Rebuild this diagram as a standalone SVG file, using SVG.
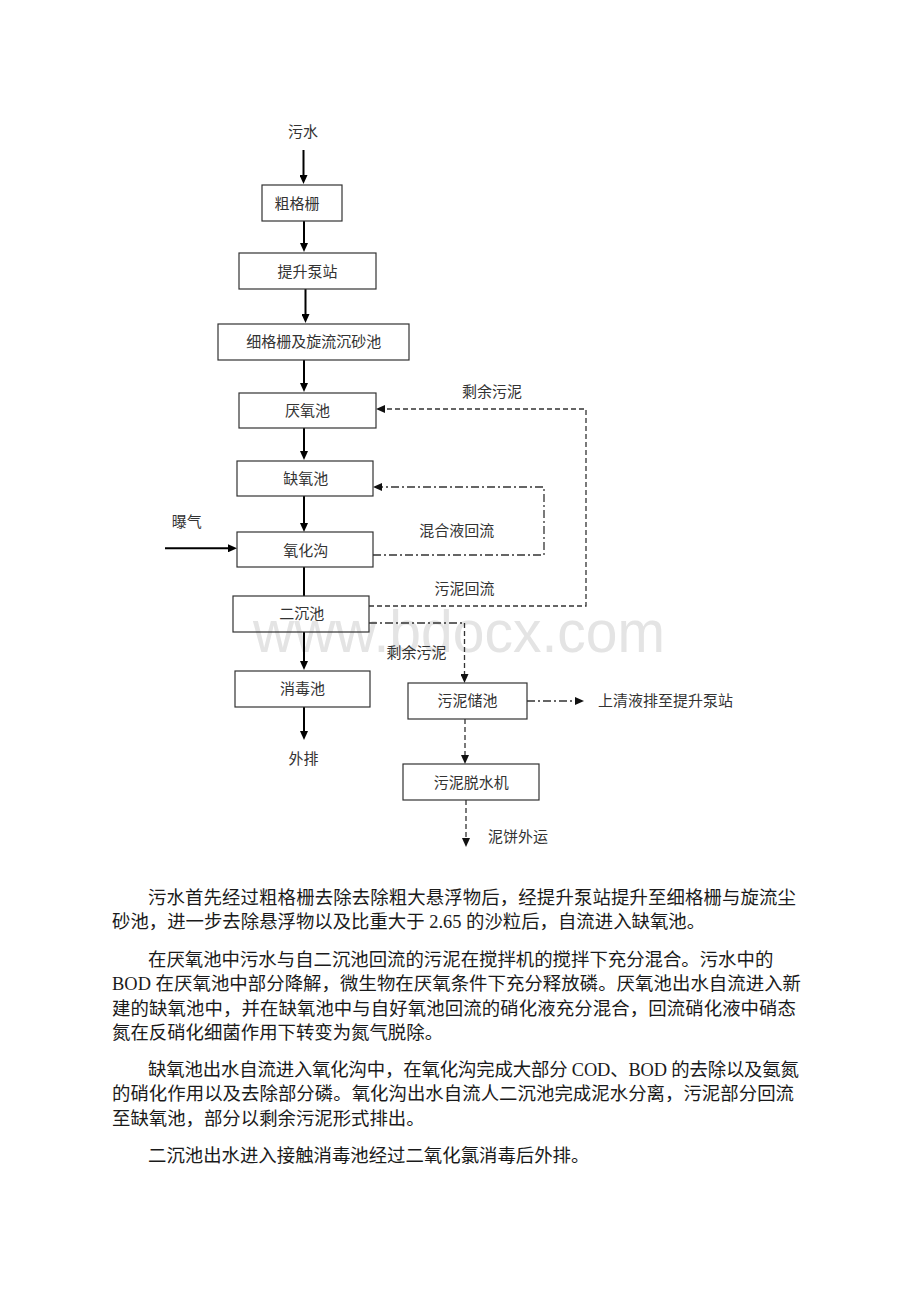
<svg xmlns="http://www.w3.org/2000/svg" width="920" height="1302" viewBox="0 0 920 1302">
<style>
.box{fill:none;stroke:#333;stroke-width:1.2}
.lbl{font-family:"Liberation Sans","Noto Sans CJK SC",sans-serif;font-size:15px;fill:#333;text-anchor:middle}
.lbl-l{font-family:"Liberation Sans","Noto Sans CJK SC",sans-serif;font-size:15px;fill:#333}
.flow{fill:none;stroke:#000;stroke-width:2}
.dash{fill:none;stroke:#333;stroke-width:1.3;stroke-dasharray:5 3}
.dashdot{fill:none;stroke:#333;stroke-width:1.3;stroke-dasharray:8 3 2 3}
.para{font-family:"Liberation Serif","Noto Sans CJK SC",serif;font-size:18.4px;fill:#1a1a1a}
.wm{font-family:"Liberation Sans",Arial,sans-serif;font-size:60px;fill:#e4e4e4}
</style>
<defs>
<marker id="ah" viewBox="0 0 9 8" refX="3" refY="4" markerWidth="9" markerHeight="8" markerUnits="userSpaceOnUse" orient="auto">
<path d="M0,0 L9,4 L0,8 z" fill="#000"/>
</marker>
<marker id="ah2" viewBox="0 0 9 8" refX="3" refY="4" markerWidth="9" markerHeight="8" markerUnits="userSpaceOnUse" orient="auto">
<path d="M0,0 L9,4 L0,8 z" fill="#111"/>
</marker>
</defs>
<rect width="920" height="1302" fill="#fff"/>
<text class="wm" x="253" y="652" textLength="412" lengthAdjust="spacingAndGlyphs">www.bdocx.com</text>

<g id="connectors">
<path class="flow" d="M303.5,150 V178" marker-end="url(#ah)"/>
<path class="flow" d="M304,221 V246" marker-end="url(#ah)"/>
<path class="flow" d="M305.5,289 V317" marker-end="url(#ah)"/>
<path class="flow" d="M304,360 V386" marker-end="url(#ah)"/>
<path class="flow" d="M304,428 V454" marker-end="url(#ah)"/>
<path class="flow" d="M304,496 V526" marker-end="url(#ah)"/>
<path class="flow" d="M304,567 V596"/>
<path class="flow" d="M304,632 V664" marker-end="url(#ah)"/>
<path class="flow" d="M304,707 V734" marker-end="url(#ah)"/>
<path class="flow" d="M165,548.3 H231" marker-end="url(#ah)"/>
<path class="dash" d="M369,606 H586 V409 H382" marker-end="url(#ah2)"/>
<path class="dashdot" d="M373,555 H544 V487 H379" marker-end="url(#ah2)"/>
<path class="dashdot" d="M369,623 H462"/>
<path class="dash" d="M464.5,623 V677" marker-end="url(#ah2)"/>
<path class="dashdot" d="M527,701 H578" marker-end="url(#ah2)"/>
<path class="dash" d="M465,719 V758" marker-end="url(#ah2)"/>
<path class="dash" d="M466,800 V841" marker-end="url(#ah2)"/>
<text class="lbl" x="492" y="397.2">剩余污泥</text>
<text class="lbl" x="456.7" y="535.5">混合液回流</text>
<text class="lbl" x="464.5" y="593.8">污泥回流</text>
<text class="lbl" x="416.5" y="658.2">剩余污泥</text>
<text class="lbl" x="186.7" y="527.2">曝气</text>
</g>

<g id="n-wushui"><text class="lbl" x="303" y="137.2">污水</text></g>
<g id="n-cugeshan"><rect class="box" x="262" y="185" width="80" height="36"/><text class="lbl" x="297" y="208.8">粗格栅</text></g>
<g id="n-tisheng"><rect class="box" x="239" y="253" width="137" height="36"/><text class="lbl" x="307.5" y="277.2">提升泵站</text></g>
<g id="n-xigeshan"><rect class="box" x="218" y="324" width="191" height="36"/><text class="lbl" x="313.8" y="347.2">细格栅及旋流沉砂池</text></g>
<g id="n-yanyang"><rect class="box" x="239" y="393" width="137" height="35"/><text class="lbl" x="307.5" y="416.2">厌氧池</text></g>
<g id="n-queyang"><rect class="box" x="237" y="461" width="136" height="35"/><text class="lbl" x="305.8" y="483.8">缺氧池</text></g>
<g id="n-yanghuagou"><rect class="box" x="237" y="532" width="136" height="35"/><text class="lbl" x="305.8" y="555.5">氧化沟</text></g>
<g id="n-erchen"><rect class="box" x="233" y="596" width="136" height="36"/><text class="lbl" x="301.7" y="618.8">二沉池</text></g>
<g id="n-xiaodu"><rect class="box" x="235" y="671" width="135" height="36"/><text class="lbl" x="302.5" y="693.8">消毒池</text></g>
<g id="n-waipai"><text class="lbl" x="303.5" y="763.8">外排</text></g>
<g id="n-wunichu"><rect class="box" x="408" y="683" width="119" height="36"/><text class="lbl" x="467.5" y="706.2">污泥储池</text></g>
<g id="n-shangqing"><text class="lbl-l" x="598" y="705.5">上清液排至提升泵站</text></g>
<g id="n-tuoshui"><rect class="box" x="403" y="764" width="136" height="36"/><text class="lbl" x="471.3" y="788.2">污泥脱水机</text></g>
<g id="n-nibing"><text class="lbl-l" x="488" y="841.5">泥饼外运</text></g>

<g id="paragraphs">
<text class="para" x="148" y="903.5" textLength="648">污水首先经过粗格栅去除去除粗大悬浮物后，经提升泵站提升至细格栅与旋流尘</text>
<text class="para" x="112" y="927.5">砂池，进一步去除悬浮物以及比重大于 2.65 的沙粒后，自流进入缺氧池。</text>
<text class="para" x="148" y="966">在厌氧池中污水与自二沉池回流的污泥在搅拌机的搅拌下充分混合。污水中的</text>
<text class="para" x="112" y="990" textLength="689">BOD 在厌氧池中部分降解，微生物在厌氧条件下充分释放磷。厌氧池出水自流进入新</text>
<text class="para" x="112" y="1014.5" textLength="684">建的缺氧池中，并在缺氧池中与自好氧池回流的硝化液充分混合，回流硝化液中硝态</text>
<text class="para" x="112" y="1038.5">氮在反硝化细菌作用下转变为氮气脱除。</text>
<text class="para" x="148" y="1076" textLength="651">缺氧池出水自流进入氧化沟中，在氧化沟完成大部分 COD、BOD 的去除以及氨氮</text>
<text class="para" x="112" y="1100" textLength="682">的硝化作用以及去除部分磷。氧化沟出水自流人二沉池完成泥水分离，污泥部分回流</text>
<text class="para" x="112" y="1124.5">至缺氧池，部分以剩余污泥形式排出。</text>
<text class="para" x="148" y="1162">二沉池出水进入接触消毒池经过二氧化氯消毒后外排。</text>
</g>
</svg>
